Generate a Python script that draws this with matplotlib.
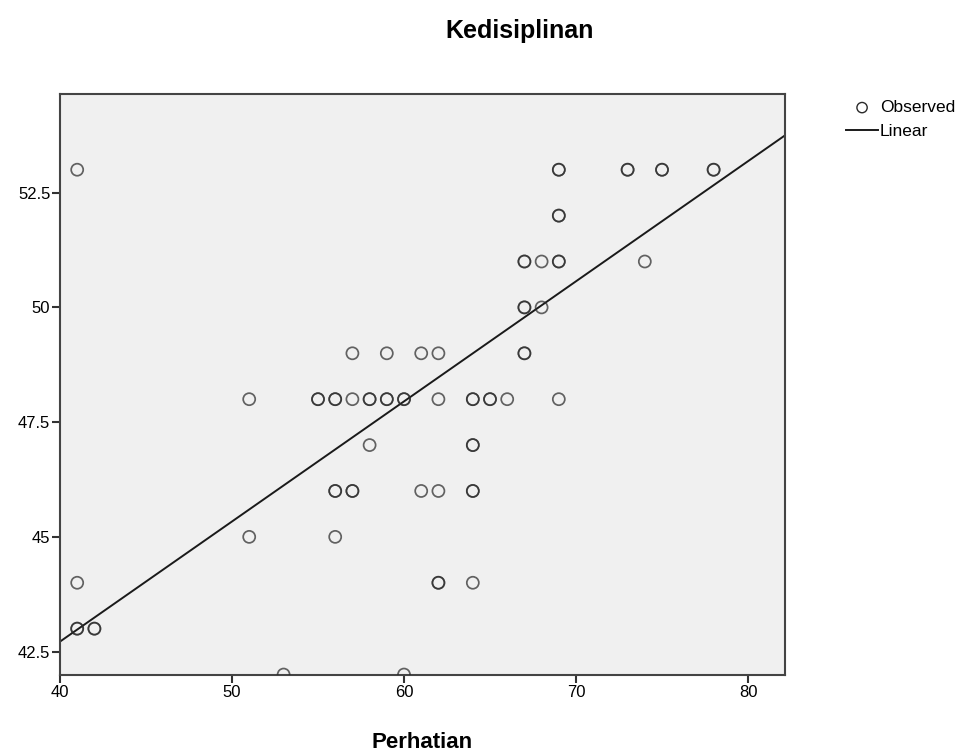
# SPSS-style curve estimation plot: Kedisiplinan vs Perhatian

import matplotlib.pyplot as plt
import numpy as np

plt.rcParams["font.family"] = ["Liberation Sans", "DejaVu Sans"]

# observed points (repeated pairs are duplicates, drawn on top of each other)
perhatian = [41, 41, 41, 41, 42, 42,
             51, 51, 53, 60,
             55, 55, 56, 56, 57, 58, 58, 59, 59, 60, 60,
             57, 59, 61, 62, 58,
             56, 56, 57, 57, 61, 62, 56,
             62, 62, 64, 62, 64, 64, 65, 65, 66,
             64, 64, 64, 64,
             67, 67, 67, 67, 67, 67, 68, 68,
             69, 69, 69, 69, 69, 69, 69,
             73, 73, 75, 75, 78, 78, 74]
kedisiplinan = [53, 44, 43, 43, 43, 43,
                48, 45, 42, 42,
                48, 48, 48, 48, 48, 48, 48, 48, 48, 48, 48,
                49, 49, 49, 49, 47,
                46, 46, 46, 46, 46, 46, 45,
                44, 44, 44, 48, 48, 48, 48, 48, 48,
                47, 47, 46, 46,
                51, 51, 50, 50, 49, 49, 51, 50,
                53, 53, 52, 52, 51, 51, 48,
                53, 53, 53, 53, 53, 53, 51]

# linear fit
fit_intercept = 32.25
fit_slope = 0.2617

x_ticks = [40, 50, 60, 70, 80]
y_ticks = [42.5, 45, 47.5, 50, 52.5]
y_ticklabels = ["42.5", "45", "47.5", "50", "52.5"]

fig = plt.figure(figsize=(9.66, 7.52), dpi=100)
ax = fig.add_axes([60 / 966, 1 - 675 / 752, 725 / 966, 581 / 752])
ax.set_facecolor("#f0f0f0")

pts = ax.scatter(perhatian, kedisiplinan, s=75, facecolors="none",
                 edgecolors="#2a2a2a", linewidths=1.25, alpha=0.72,
                 zorder=3, label="Observed")

xlim = (40, 82.15)
xs = np.array(xlim)
line, = ax.plot(xs, fit_intercept + fit_slope * xs, color="#1a1a1a",
                lw=1.4, zorder=2, label="Linear")

ax.set_xlim(*xlim)
ax.set_ylim(41.99, 54.65)
ax.set_xticks(x_ticks)
ax.set_yticks(y_ticks)
ax.set_yticklabels(y_ticklabels)
ax.tick_params(direction="out", length=6, width=1.5, color="#333333",
               labelsize=12, pad=1)
for sp in ax.spines.values():
    sp.set_color("#444444")
    sp.set_linewidth(1.5)

ax.set_xlabel("Perhatian", fontsize=16, fontweight="bold", labelpad=23)
fig.text(520 / 966, 1 - 31 / 752, "Kedisiplinan",
         fontsize=18, fontweight="bold", ha="center", va="center")

leg = fig.legend(handles=[pts, line], loc="upper left",
                 bbox_to_anchor=(846 / 966, 1 - 100 / 752),
                 frameon=False, fontsize=12.5, handlelength=1.85,
                 handletextpad=0.1, labelspacing=0.5, borderpad=0,
                 borderaxespad=0)
for lh in leg.legend_handles:
    lh.set_alpha(1)
leg.legend_handles[0].set_sizes([55])
leg.legend_handles[0].set_linewidth(1.0)

fig.savefig("out.png", dpi=100)
